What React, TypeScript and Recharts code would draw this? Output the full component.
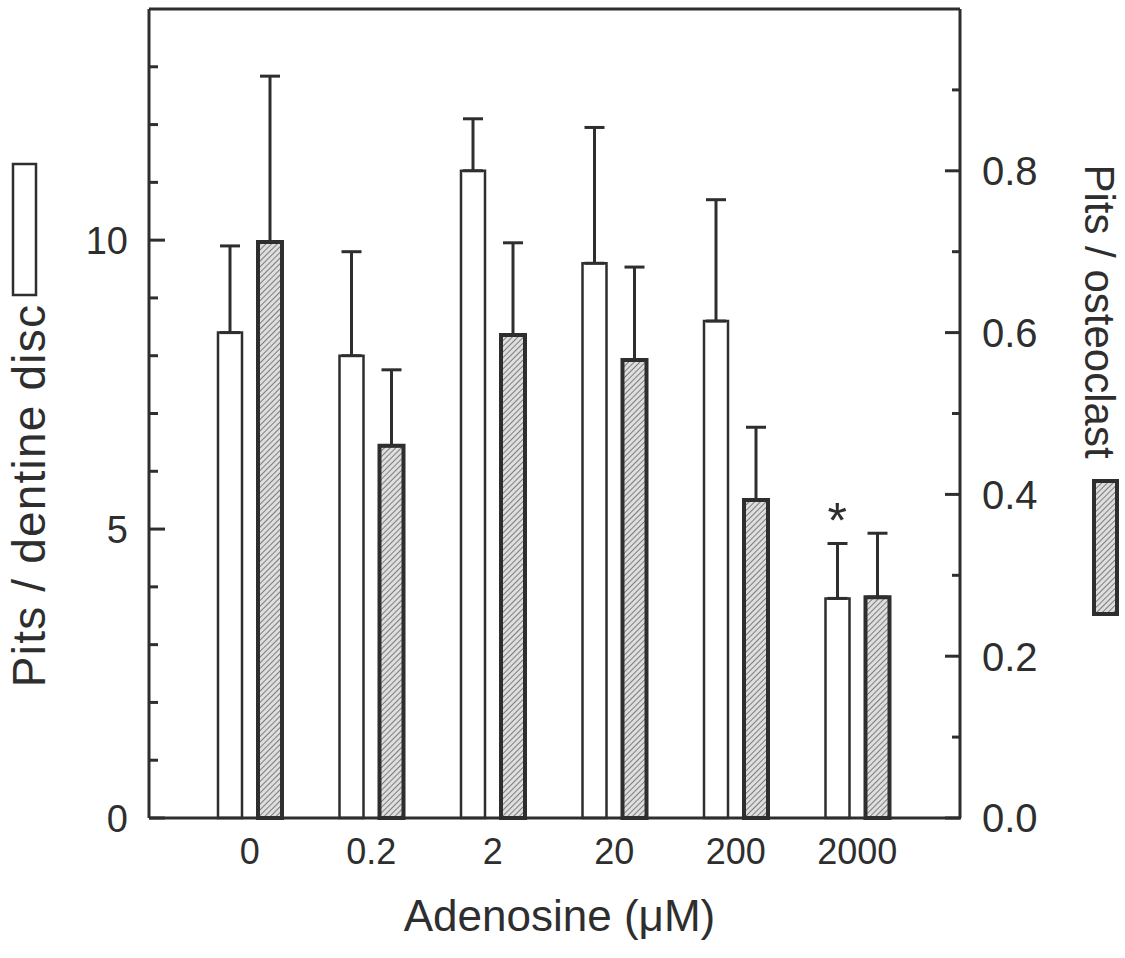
import React from "react";
import {
  Bar,
  ComposedChart,
  ErrorBar,
  ReferenceDot,
  ReferenceLine,
  XAxis,
  YAxis,
} from "recharts";

// Adenosine dose groups (µM)
const doses = ["0", "0.2", "2", "20", "200", "2000"];

// Pits per dentine disc (left axis, open bars), mean and upper SEM
const pitsPerDisc = [8.4, 8.0, 11.2, 9.6, 8.6, 3.8];
const pitsPerDiscSem = [1.5, 1.8, 0.9, 2.35, 2.1, 0.95];

// Pits per osteoclast (right axis, hatched bars), mean and upper SEM
const pitsPerOsteoclast = [0.712, 0.46, 0.597, 0.566, 0.393, 0.273];
const pitsPerOsteoclastSem = [0.205, 0.094, 0.114, 0.115, 0.09, 0.079];

// significance marks over the open bars
const significance = ["", "", "", "", "", "*"];

const leftTicks = [0, 1, 2, 3, 4, 5, 6, 7, 8, 9, 10, 11, 12, 13];
const leftLabelled = [0, 5, 10];
const rightTicks = [0, 0.1, 0.2, 0.3, 0.4, 0.5, 0.6, 0.7, 0.8, 0.9];
const rightLabelled = [0, 0.2, 0.4, 0.6, 0.8];

const INK = "#2e2e2e";
const FONT = "'Liberation Sans', Arial, Helvetica, sans-serif";
const BAR_SIZE = 24;
const BAR_GAP = 16;
const Y_TICK_MARGIN = 21;
const X_TICK_MARGIN = 20;

const data = doses.map((dose, i) => ({
  dose,
  disc: pitsPerDisc[i],
  discErr: [0, pitsPerDiscSem[i]],
  osteo: pitsPerOsteoclast[i],
  osteoErr: [0, pitsPerOsteoclastSem[i]],
}));

function LeftTick(props: any) {
  const { x, y, payload } = props;
  const edge = x + Y_TICK_MARGIN;
  const major = leftLabelled.includes(payload.value);
  return (
    <g>
      <line x1={edge} x2={edge + (major ? 16 : 9)} y1={y} y2={y} stroke={INK} strokeWidth={3} />
      {major && (
        <text x={x} y={y} dy="0.36em" textAnchor="end" fill={INK} fontSize={38} fontFamily={FONT}>
          {payload.value}
        </text>
      )}
    </g>
  );
}

function RightTick(props: any) {
  const { x, y, payload } = props;
  const edge = x - Y_TICK_MARGIN;
  const major = rightLabelled.includes(payload.value);
  return (
    <g>
      <line x1={edge} x2={edge - (major ? 16 : 9)} y1={y} y2={y} stroke={INK} strokeWidth={3} />
      {major && (
        <text x={x} y={y} dy="0.36em" textAnchor="start" fill={INK} fontSize={40} fontFamily={FONT}>
          {payload.value.toFixed(1)}
        </text>
      )}
    </g>
  );
}

function DoseTick(props: any) {
  const { x, y, payload } = props;
  return (
    <text x={x} y={y} dy="0.71em" textAnchor="middle" fill={INK} fontSize={36} fontFamily={FONT}>
      {payload.value}
    </text>
  );
}

function LeftTitle(props: any) {
  const { x, y, height } = props.viewBox;
  const cx = x + 28;
  const cy = y + height / 2 + 82;
  return (
    <g>
      <rect x={x + 13} y={y + 155} width={23} height={131} fill="#fff" stroke={INK} strokeWidth={2.5} />
      <text
        x={cx}
        y={cy}
        dy="0.36em"
        transform={`rotate(-90 ${cx} ${cy})`}
        textAnchor="middle"
        fill={INK}
        fontSize={46}
        letterSpacing={1.2}
        fontFamily={FONT}
      >
        Pits / dentine disc
      </text>
    </g>
  );
}

function RightTitle(props: any) {
  const { x, y, height } = props.viewBox;
  const cx = x + 140;
  const cy = y + height / 2 - 102;
  return (
    <g>
      <rect x={x + 134} y={y + 472} width={23} height={133} fill="url(#hatch)" stroke={INK} strokeWidth={4} />
      <text
        x={cx}
        y={cy}
        dy="0.36em"
        transform={`rotate(90 ${cx} ${cy})`}
        textAnchor="middle"
        fill={INK}
        fontSize={42}
        fontFamily={FONT}
      >
        Pits / osteoclast
      </text>
    </g>
  );
}

function DoseTitle(props: any) {
  const { x, y, width } = props.viewBox;
  return (
    <text x={x + width / 2 + 5} y={y + 113} textAnchor="middle" fill={INK} fontSize={44} fontFamily={FONT}>
      Adenosine (μM)
    </text>
  );
}

function Star(props: any) {
  const { x, y } = props.viewBox;
  return (
    <text
      x={x - (BAR_SIZE + BAR_GAP) / 2}
      y={y - 6}
      textAnchor="middle"
      fill={INK}
      fontSize={50}
      fontFamily={FONT}
    >
      {props.value}
    </text>
  );
}

export default function App() {
  return (
    <div style={{ position: "absolute", left: 0, top: 0, background: "#fff" }}>
      <ComposedChart
        width={1125}
        height={958}
        data={data}
        margin={{ top: 9, right: 0, bottom: 0, left: 0 }}
        barGap={BAR_GAP}
      >
        <defs>
          <pattern id="hatch" width="4" height="4" patternUnits="userSpaceOnUse" patternTransform="rotate(45)">
            <rect width="4" height="4" fill="#dedede" />
            <line x1="0" y1="0" x2="0" y2="4" stroke="#727272" strokeWidth="1.8" />
          </pattern>
        </defs>
        <XAxis
          dataKey="dose"
          height={140}
          padding={{ left: 40, right: 42 }}
          tickLine={false}
          tickSize={0}
          tickMargin={X_TICK_MARGIN}
          tick={DoseTick}
          interval={0}
          axisLine={{ stroke: INK, strokeWidth: 3 }}
          label={DoseTitle}
        />
        <YAxis
          yAxisId="left"
          orientation="left"
          type="number"
          width={149}
          domain={[0, 14]}
          ticks={leftTicks}
          interval={0}
          tickLine={false}
          tickSize={0}
          tickMargin={Y_TICK_MARGIN}
          tick={LeftTick}
          axisLine={{ stroke: INK, strokeWidth: 3 }}
          label={LeftTitle}
        />
        <YAxis
          yAxisId="right"
          orientation="right"
          type="number"
          width={165}
          domain={[0, 1]}
          ticks={rightTicks}
          interval={0}
          tickLine={false}
          tickSize={0}
          tickMargin={Y_TICK_MARGIN + 1}
          tick={RightTick}
          axisLine={{ stroke: INK, strokeWidth: 3 }}
          label={RightTitle}
        />
        <ReferenceLine yAxisId="left" y={14} stroke={INK} strokeWidth={3} />
        <Bar
          yAxisId="left"
          dataKey="disc"
          barSize={BAR_SIZE}
          fill="#fff"
          stroke={INK}
          strokeWidth={2.5}
          isAnimationActive={false}
        >
          <ErrorBar dataKey="discErr" direction="y" width={10} stroke={INK} strokeWidth={3} />
        </Bar>
        <Bar
          yAxisId="right"
          dataKey="osteo"
          barSize={BAR_SIZE}
          fill="url(#hatch)"
          stroke={INK}
          strokeWidth={4}
          isAnimationActive={false}
        >
          <ErrorBar dataKey="osteoErr" direction="y" width={10} stroke={INK} strokeWidth={3} />
        </Bar>
        {significance.map((mark, i) =>
          mark ? (
            <ReferenceDot
              key={doses[i]}
              yAxisId="left"
              x={doses[i]}
              y={pitsPerDisc[i] + pitsPerDiscSem[i]}
              r={0}
              stroke="none"
              label={<Star value={mark} />}
            />
          ) : null,
        )}
      </ComposedChart>
    </div>
  );
}
